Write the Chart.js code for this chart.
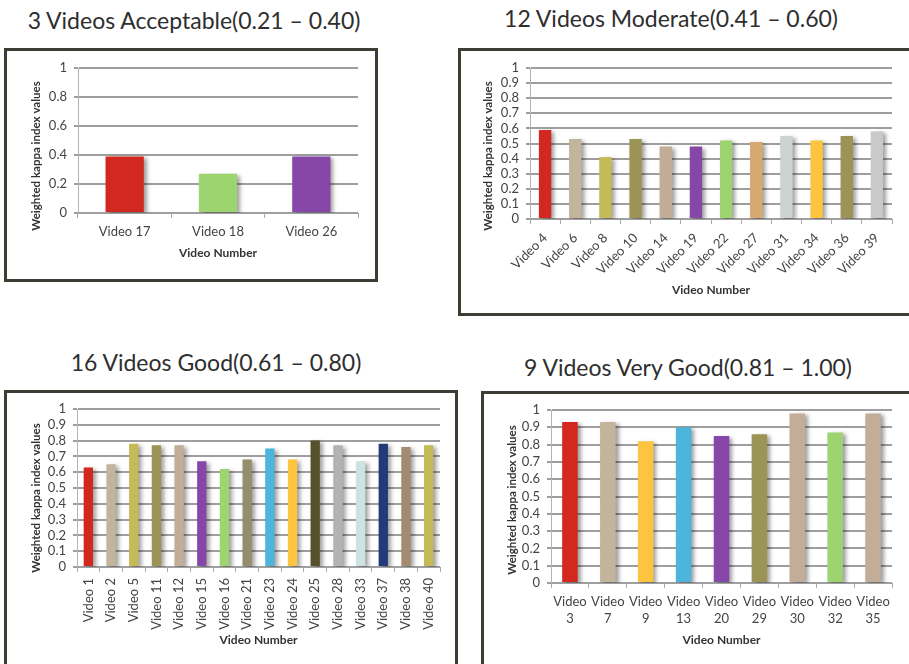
<!DOCTYPE html>
<html>
<head>
<meta charset="utf-8">
<title>Weighted kappa index by video</title>
<script src="https://cdn.jsdelivr.net/npm/chart.js@4.4.1/dist/chart.umd.min.js"></script>
<style>
  html, body { margin: 0; padding: 0; background: #fff; }
  body { width: 909px; height: 664px; overflow: hidden; position: relative; font-family: Lato, "Open Sans", sans-serif; }
  .heading { position: absolute; transform: translate(-50%, -50%); white-space: nowrap; font-size: 23px; color: #2e2e2e; }
  .frame { position: absolute; border: 3px solid #3e3c33; box-sizing: border-box; background: #fff; overflow: hidden; }
  .frame canvas { position: absolute; left: 0; top: 0; }
</style>
</head>
<body>
<div class="heading" style="left:194px;top:20px">3 Videos Acceptable(0.21 – 0.40)</div>
<div class="heading" style="left:671px;top:18px">12 Videos Moderate(0.41 – 0.60)</div>
<div class="heading" style="left:216px;top:362px">16 Videos Good(0.61 – 0.80)</div>
<div class="heading" style="left:688px;top:367px">9 Videos Very Good(0.81 – 1.00)</div>

<div class="frame" style="left:4px;top:48px;width:374px;height:234px"><canvas id="acceptable" width="368" height="228"></canvas></div>
<div class="frame" style="left:458px;top:48px;width:454px;height:268px"><canvas id="moderate" width="448" height="262"></canvas></div>
<div class="frame" style="left:4px;top:390px;width:454px;height:290px"><canvas id="good" width="448" height="271"></canvas></div>
<div class="frame" style="left:481px;top:391px;width:434px;height:290px"><canvas id="veryGood" width="425" height="270"></canvas></div>

<script>
// Bar fills (Excel-style palette)
const RED = '#d2281f', TAN = '#c2b59c', OLIVE_YELLOW = '#c5ba58', OLIVE = '#9c9455',
      TAN2 = '#c1ad98', PURPLE = '#8747a9', GREEN = '#9dd470', ORANGE_TAN = '#d6a96f',
      LIGHT_GREY = '#cdd3d1', YELLOW = '#fdc43f', GREY = '#c9c9c9', GREY_OLIVE = '#958e6d',
      CYAN = '#4db5dc', DARK_OLIVE = '#57512b', MID_GREY = '#b3b3b3', PALE_BLUE = '#cfe2e2',
      NAVY = '#22397a', BROWN = '#a48b70';

// Acceptable agreement (0.21 – 0.40)
const acceptableVideos = ['Video 17', 'Video 18', 'Video 26'];
const acceptableKappa  = [0.39, 0.27, 0.39];
const acceptableColors = [RED, GREEN, PURPLE];

// Moderate agreement (0.41 – 0.60)
const moderateVideos = ['Video 4', 'Video 6', 'Video 8', 'Video 10', 'Video 14', 'Video 19',
                        'Video 22', 'Video 27', 'Video 31', 'Video 34', 'Video 36', 'Video 39'];
const moderateKappa  = [0.59, 0.53, 0.41, 0.53, 0.48, 0.48, 0.52, 0.51, 0.55, 0.52, 0.55, 0.58];
const moderateColors = [RED, TAN, OLIVE_YELLOW, OLIVE, TAN2, PURPLE, GREEN, ORANGE_TAN,
                        LIGHT_GREY, YELLOW, OLIVE, GREY];

// Good agreement (0.61 – 0.80)
const goodVideos = ['Video 1', 'Video 2', 'Video 5', 'Video 11', 'Video 12', 'Video 15', 'Video 16',
                    'Video 21', 'Video 23', 'Video 24', 'Video 25', 'Video 28', 'Video 33',
                    'Video 37', 'Video 38', 'Video 40'];
const goodKappa  = [0.63, 0.65, 0.78, 0.77, 0.77, 0.67, 0.62, 0.68, 0.75, 0.68, 0.80, 0.77,
                    0.67, 0.78, 0.76, 0.77];
const goodColors = [RED, TAN, OLIVE_YELLOW, OLIVE, TAN2, PURPLE, GREEN, GREY_OLIVE, CYAN, YELLOW,
                    DARK_OLIVE, MID_GREY, PALE_BLUE, NAVY, BROWN, OLIVE_YELLOW];

// Very good agreement (0.81 – 1.00), labels wrap onto two lines
const veryGoodVideos = [['Video', '3'], ['Video', '7'], ['Video', '9'], ['Video', '13'], ['Video', '20'],
                        ['Video', '29'], ['Video', '30'], ['Video', '32'], ['Video', '35']];
const veryGoodKappa  = [0.93, 0.93, 0.82, 0.90, 0.85, 0.86, 0.98, 0.87, 0.98];
const veryGoodColors = [RED, TAN, YELLOW, CYAN, PURPLE, OLIVE, TAN2, GREEN, TAN2];

const Y_TITLE = 'Weighted kappa index values';
const X_TITLE = 'Video Number';

// Soft drop shadow behind the bars
const barShadow = {
  id: 'barShadow',
  beforeDatasetsDraw(chart) {
    const c = chart.ctx;
    c.save();
    c.shadowColor = 'rgba(0,0,0,0.38)';
    c.shadowBlur = 4;
    c.shadowOffsetX = 3;
    c.shadowOffsetY = 2;
  },
  afterDatasetsDraw(chart) { chart.ctx.restore(); }
};

// Rotated value-axis caption, placed at a fixed point of the canvas
const sideCaption = {
  id: 'sideCaption',
  afterDraw(chart, args, opts) {
    if (!opts || !opts.text) return;
    const c = chart.ctx;
    c.save();
    c.translate(opts.x, opts.y);
    c.rotate(-Math.PI / 2);
    c.font = 'bold 11.5px Lato, "Open Sans", sans-serif';
    c.fillStyle = '#333';
    c.textAlign = 'center';
    c.textBaseline = 'middle';
    c.fillText(opts.text, 0, 0);
    c.restore();
  }
};

function buildChart(id, labels, values, colors, o) {
  return new Chart(document.getElementById(id), {
    type: 'bar',
    data: {
      labels: labels,
      datasets: [{
        data: values,
        backgroundColor: colors,
        borderWidth: 0,
        categoryPercentage: 1,
        barPercentage: 0.41
      }]
    },
    plugins: [barShadow, sideCaption],
    options: {
      responsive: false,
      animation: false,
      devicePixelRatio: 1,
      layout: { padding: { left: 0, top: o.top, right: o.right, bottom: 0 } },
      plugins: {
        legend: { display: false },
        tooltip: { enabled: false },
        sideCaption: { text: Y_TITLE, x: o.capX, y: o.capY }
      },
      scales: {
        y: {
          min: 0, max: 1,
          afterFit(scale) { scale.width = o.left; },
          ticks: {
            stepSize: o.step,
            autoSkip: false,
            padding: 7,
            color: '#444',
            font: { size: 13 },
            callback: v => String(Math.round(v * 10) / 10)
          },
          grid: { color: '#9e9e9e', lineWidth: 2, tickLength: 4 },
          border: { color: '#b4b4b4', width: 1 }
        },
        x: {
          afterFit(scale) { scale.height = o.bottom; },
          ticks: {
            autoSkip: false,
            minRotation: o.rot, maxRotation: o.rot,
            padding: 6,
            color: '#444',
            font: { size: 13, lineHeight: 1.25 }
          },
          grid: { drawOnChartArea: false, drawTicks: true, tickLength: 5, color: '#a8a8a8', lineWidth: 1 },
          border: { color: '#a0a0a0', width: 1 },
          title: {
            display: true,
            text: X_TITLE,
            color: '#333',
            font: { size: 12, weight: 'bold', lineHeight: 1.2 },
            padding: { top: 0, bottom: o.titlePad }
          }
        }
      }
    }
  });
}

function drawAll() {
  Chart.defaults.font.family = 'Lato, "Open Sans", sans-serif';
  buildChart('acceptable', acceptableVideos, acceptableKappa, acceptableColors,
    { step: 0.2, rot: 0, left: 71, top: 17, right: 17, bottom: 66, titlePad: 19, capX: 29, capY: 105 });
  buildChart('moderate', moderateVideos, moderateKappa, moderateColors,
    { step: 0.1, rot: 45, left: 69, top: 17, right: 17, bottom: 94, titlePad: 16, capX: 27, capY: 105 });
  buildChart('good', goodVideos, goodKappa, goodColors,
    { step: 0.1, rot: 90, left: 70, top: 16, right: 15, bottom: 97, titlePad: 17, capX: 29, capY: 105 });
  buildChart('veryGood', veryGoodVideos, veryGoodKappa, veryGoodColors,
    { step: 0.1, rot: 0, left: 67, top: 16, right: 17, bottom: 81, titlePad: 17, capX: 28, capY: 106 });
}

Promise.all([
  document.fonts.load('13px Lato'),
  document.fonts.load('bold 12px Lato')
]).then(drawAll, drawAll);
</script>
</body>
</html>
